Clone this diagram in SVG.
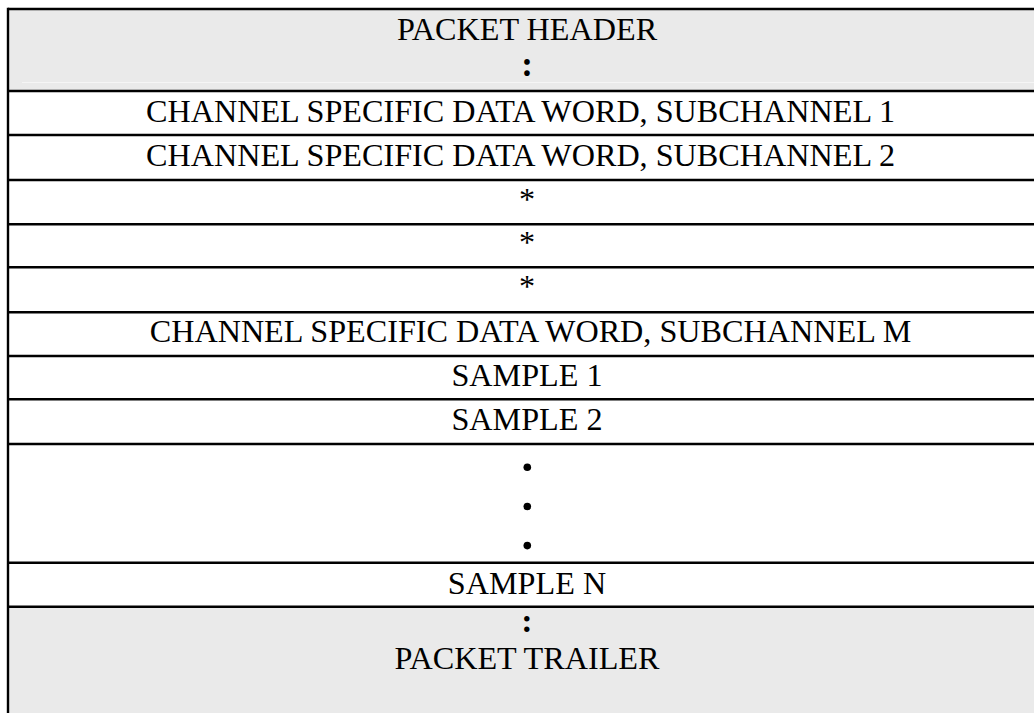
<svg xmlns="http://www.w3.org/2000/svg" width="1034" height="713" viewBox="0 0 1034 713">
<style>
.t{font-family:"Liberation Serif","Times New Roman",serif;font-size:32.2px;fill:#000;text-anchor:middle}
.c{font-family:"Liberation Serif","Times New Roman",serif;font-size:35px;font-weight:bold;fill:#000;text-anchor:middle}
.shade{fill:#eaeaea}
.ln{stroke:#000;stroke-width:2.4;fill:none}
</style>
<rect x="0" y="0" width="1034" height="713" fill="#fff"/>
<g id="header">
<rect class="shade" x="8" y="9" width="1026" height="82"/>
<line x1="22" y1="82.5" x2="1034" y2="82.5" stroke="#f5f5f5" stroke-width="1"/>
<text class="t" x="527" y="39.5">PACKET HEADER</text>
<text class="c" x="527" y="76">:</text>
</g>
<g id="csdw1"><text class="t" x="520.5" y="121.5">CHANNEL SPECIFIC DATA WORD, SUBCHANNEL 1</text></g>
<g id="csdw2"><text class="t" x="520.5" y="165.5">CHANNEL SPECIFIC DATA WORD, SUBCHANNEL 2</text></g>
<g id="star1"><text class="t" x="527" y="210">*</text></g>
<g id="star2"><text class="t" x="527" y="253">*</text></g>
<g id="star3"><text class="t" x="527" y="297">*</text></g>
<g id="csdwM"><text class="t" x="530.5" y="342">CHANNEL SPECIFIC DATA WORD, SUBCHANNEL M</text></g>
<g id="sample1"><text class="t" x="527" y="385.5">SAMPLE 1</text></g>
<g id="sample2"><text class="t" x="527" y="429.5">SAMPLE 2</text></g>
<g id="dots">
<circle cx="527.3" cy="467.3" r="3.8"/>
<circle cx="527.3" cy="506.5" r="3.8"/>
<circle cx="527.3" cy="545.6" r="3.8"/>
</g>
<g id="sampleN"><text class="t" x="527" y="593.5">SAMPLE N</text></g>
<g id="trailer">
<rect class="shade" x="8" y="607" width="1026" height="106"/>
<text class="c" x="527" y="632" style="font-size:34px">:</text>
<text class="t" x="527" y="668.5">PACKET TRAILER</text>
</g>
<g id="grid">
<line class="ln" x1="8" y1="9" x2="1034" y2="9"/>
<line class="ln" x1="8" y1="7.8" x2="8" y2="713"/>
<line class="ln" x1="8" y1="91" x2="1034" y2="91"/>
<line class="ln" x1="8" y1="135" x2="1034" y2="135"/>
<line class="ln" x1="8" y1="180" x2="1034" y2="180"/>
<line class="ln" x1="8" y1="224.3" x2="1034" y2="224.3"/>
<line class="ln" x1="8" y1="267.3" x2="1034" y2="267.3"/>
<line class="ln" x1="8" y1="312.3" x2="1034" y2="312.3"/>
<line class="ln" x1="8" y1="356" x2="1034" y2="356"/>
<line class="ln" x1="8" y1="399.3" x2="1034" y2="399.3"/>
<line class="ln" x1="8" y1="444" x2="1034" y2="444"/>
<line class="ln" x1="8" y1="562.7" x2="1034" y2="562.7"/>
<line class="ln" x1="8" y1="606.7" x2="1034" y2="606.7"/>
</g>
</svg>
